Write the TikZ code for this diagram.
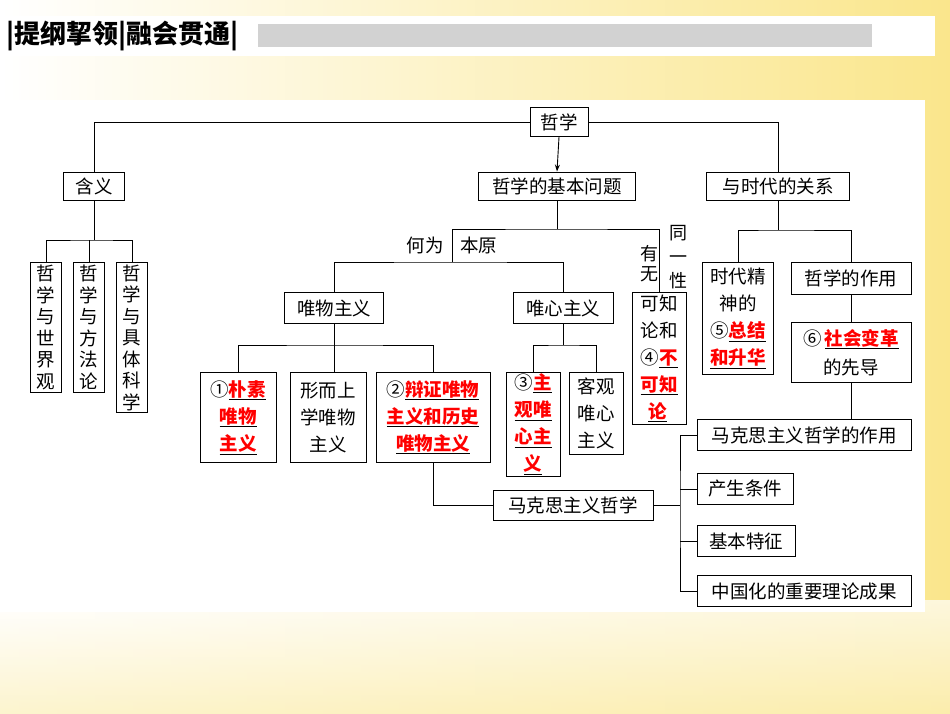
\documentclass[tikz,border=0pt]{standalone}
\usepackage{fontspec}
\setmainfont{Noto Sans CJK SC}
\usetikzlibrary{arrows.meta,positioning,calc}
\definecolor{glow}{RGB}{250,230,140}
\newcommand\bx{\fontsize{18.5}{27}\selectfont}
\newcommand\vx{\fontsize{18.5}{21.5}\selectfont}
\newcommand\hl[1]{\underline{\textcolor{red}{\textbf{#1}}}}
\tikzset{
  box/.style={draw, line width=0.9pt, inner sep=0pt, font=\bx, align=center},
  vbox/.style={box, font=\vx, minimum width=31},
  lab/.style={font=\bx, inner sep=0pt, align=center},
  link/.style={line width=0.9pt}
}
\begin{document}
\begin{tikzpicture}[x=1pt,y=-1pt]
    \useasboundingbox (0,0) rectangle (950,713);
    % background
    \shade[left color=white, right color=glow] (0,0) rectangle (950,713);
    \shade[top color=glow!0, bottom color=glow!60, opacity=0.7] (0,600) rectangle (950,713);
    \fill[white] (0,100) rectangle (925,612);
    % header
    \fill[white] (0,16) rectangle (935,56);
    \fill[gray!35] (258,24) rectangle (872,47);
    \node[inner sep=0pt, anchor=west, font=\fontsize{26}{26}\selectfont\bfseries] (title) at (6,36) {\textbar 提纲挈领\textbar 融会贯通\textbar};

    % top level
    \node[box, minimum width=58, minimum height=29] (zx) at (559,122) {哲学};
    \node[box, minimum width=61, minimum height=28] (hy) at (94,186) {含义};
    \node[box, minimum width=157, minimum height=28] (jb) at (557,186) {哲学的基本问题};
    \node[box, minimum width=143, minimum height=28] (sd) at (778,186) {与时代的关系};
    \draw[link] (zx.west) -| (hy.north);
    \draw[link] (zx.east) -| (sd.north);
    \draw[link, -{Stealth[length=7pt,width=5pt]}] (zx.south) -- (jb.north);

    % meaning
    \node[vbox, minimum height=130, anchor=north] (sj) at (46,262) {哲\\学\\与\\世\\界\\观};
    \node[vbox, minimum height=130, anchor=north] (ff) at (89,262) {哲\\学\\与\\方\\法\\论};
    \node[vbox, minimum height=150, anchor=north] (kx) at (132,262) {哲\\学\\与\\具\\体\\科\\学};
    \coordinate (hyj) at (94,240);
    \draw[link] (hy.south) -- (hyj);
    \draw[link] (sj.north) |- (hyj) -| (kx.north);
    \draw[link] (ff.north) -- (ff.north |- hyj);

    % basic question
    \coordinate (jbj) at (557,229);
    \coordinate (byj) at (452,262);
    \node[box, minimum width=54, minimum height=132, anchor=north] (kz) at (659,292)
      {可知\\论和\\④\hl{不}\\\hl{可知}\\\hl{论}\,};
    \draw[link] (jb.south) -- (jbj);
    \draw[link] (byj) |- (jbj) -| (kz.north);
    \node[lab, anchor=east] (hw) at (444,245) {何为};
    \node[lab, anchor=west] (by) at (460,245) {本原};
    \node[lab, font=\fontsize{18}{20}\selectfont] (yw) at (649,264) {有\\无};
    \node[lab, font=\fontsize{18}{24}\selectfont] (tyx) at (678,257) {同\\一\\性};

    \node[box, minimum width=99, minimum height=31] (ww) at (334,308) {唯物主义};
    \node[box, minimum width=100, minimum height=31] (wx) at (563,308) {唯心主义};
    \draw[link] (ww.north) |- (byj) -| (wx.north);

    % materialism
    \node[box, minimum width=76, minimum height=90, anchor=north] (ps) at (238,372)
      {①\hl{朴素}\\\hl{唯物}\\\hl{主义}};
    \node[box, minimum width=76, minimum height=90, anchor=north] (xe) at (328,372)
      {形而上\\学唯物\\主义};
    \node[box, minimum width=114, minimum height=90, anchor=north] (bz) at (433,372)
      {②\hl{辩证唯物}\\\hl{主义和历史}\\\hl{唯物主义}};
    \coordinate (wwj) at (334,345);
    \draw[link] (ww.south) -- (wwj);
    \draw[link] (ps.north) |- (wwj) -| (bz.north);
    \draw[link] (xe.north -| wwj) -- (wwj);

    % idealism
    \node[box, minimum width=54, minimum height=104, anchor=north] (zg) at (533,372)
      {③\hl{主}\\\hl{观唯}\\\hl{心主}\\\hl{义}};
    \node[box, minimum width=54, minimum height=82, anchor=north] (kg) at (596,372)
      {客观\\唯心\\主义};
    \coordinate (wxj) at (563,345);
    \draw[link] (wx.south) -- (wxj);
    \draw[link] (zg.north) |- (wxj) -| (kg.north);

    % times
    \node[box, minimum width=71, minimum height=112, anchor=north] (jz) at (738,262)
      {时代精\\神的\\⑤\hl{总结}\\\hl{和升华}};
    \node[box, minimum width=120, minimum height=32, anchor=north] (zy) at (851,262) {哲学的作用};
    \node[box, minimum width=120, minimum height=60, anchor=north, font=\fontsize{18.5}{29}\selectfont] (xd) at (851,322)
      {⑥\,\hl{社会变革}\\的先导};
    \coordinate (sdj) at (778,230);
    \draw[link] (sd.south) -- (sdj);
    \draw[link] (jz.north) |- (sdj) -| (zy.north);
    \draw[link] (zy.south) -- (xd.north);

    % marxism
    \node[box, minimum width=214, minimum height=31, anchor=west] (mzy) at (697,435) {马克思主义哲学的作用};
    \node[box, minimum width=96, minimum height=31, anchor=west] (cs) at (697,489) {产生条件};
    \node[box, minimum width=98, minimum height=31, anchor=west] (tz) at (697,541) {基本特征};
    \node[box, minimum width=214, minimum height=31, anchor=west] (zgh) at (697,591) {中国化的重要理论成果};
    \node[box, minimum width=160, minimum height=30] (mk) at (573,505) {马克思主义哲学};
    \draw[link] (xd.south) -- (xd.south |- mzy.north);
    \draw[link] (bz.south) |- (mk.west);
    \coordinate (mkj) at (680,505);
    \draw[link] (mk.east) -- (mkj);
    \draw[link] (mzy.west) -| (mkj) |- (zgh.west);
    \draw[link] (cs.west) -- (cs.west -| mkj);
    \draw[link] (tz.west) -- (tz.west -| mkj);
\end{tikzpicture}
\end{document}
